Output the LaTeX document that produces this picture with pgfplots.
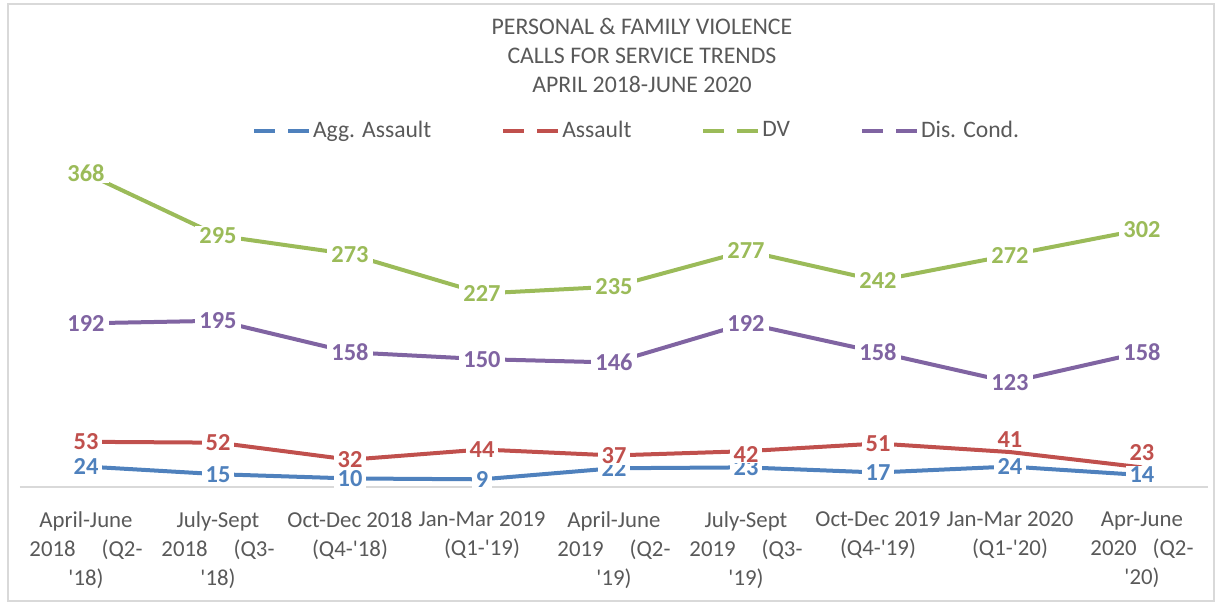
\documentclass[border=0pt]{standalone}
\usepackage{pgfplots}
\pgfplotsset{compat=1.18}
\usepackage{fontspec}
\setmainfont{Carlito}[Ligatures=TeXOff]
\definecolor{cBlue}{HTML}{4F81BD}
\definecolor{cRed}{HTML}{C0504D}
\definecolor{cGreen}{HTML}{9BBB59}
\definecolor{cPurple}{HTML}{8064A2}
\definecolor{cText}{HTML}{595959}
\definecolor{cGrid}{HTML}{D9D9D9}
\pgfplotstableread{
x agg assault dv dis rdy
0 24 53 368 192 0
1 15 52 295 195 0
2 10 32 273 158 0
3 9 44 227 150 0
4 22 37 235 146 0
5 23 42 277 192 -1.5
6 17 51 242 158 0
7 24 41 272 123 6
8 14 23 302 158 7.5
}\datatable
\begin{document}
\begin{tikzpicture}
\begin{scope}[x=0.5pt,y=-0.5pt,shift={(-10pt,243.5pt)}]
\path[use as bounding box] (0,0) rectangle (1220,603);
\draw[cGrid, line width=1pt] (8,4) rectangle (1214,601);
\node[align=center, text=cText, font=\fontsize{11.9}{14.5}\selectfont] at (642,55) {PERSONAL \& FAMILY VIOLENCE\\CALLS FOR SERVICE TRENDS\\APRIL 2018-JUNE 2020};
\end{scope}
\begin{axis}[
  at={(0,0)}, anchor=south west,
  scale only axis, width=594pt, height=170.5pt,
  xmin=-0.5, xmax=8.5, ymin=0, ymax=400,
  axis x line*=bottom, axis y line=none,
  x axis line style={draw=cGrid, line width=0.75pt},
  xtick={0,...,8}, major tick length=0pt, ytick=\empty,
  /pgf/number format/assume math mode=true,
  xticklabels={
    {April-June\\2018\hspace{13pt}(Q2-\\'18)},
    {July-Sept\\2018\hspace{13pt}(Q3-\\'18)},
    {Oct-Dec 2018\\(Q4-'18)},
    {Jan-Mar 2019\\(Q1-'19)},
    {April-June\\2019\hspace{13pt}(Q2-\\'19)},
    {July-Sept\\2019\hspace{13pt}(Q3-\\'19)},
    {Oct-Dec 2019\\(Q4-'19)},
    {Jan-Mar 2020\\(Q1-'20)},
    {Apr-June\\2020\hspace{8pt}(Q2-\\'20)}},
  xticklabel style={align=center, text=cText, font=\fontsize{11.4}{14.5}\selectfont, anchor=north, yshift=-9pt},
  clip=false,
  every axis plot/.append style={line width=2pt},
  nodes near coords style={anchor=center, fill=white, inner xsep=2pt, inner ysep=0.5pt, font=\fontsize{12.2}{14}\selectfont\bfseries},
  legend columns=4,
  legend image code/.code={\draw[#1, dash pattern=on 10.5pt off 6.5pt] (0pt,0pt) -- (27.5pt,0pt);},
  legend style={at={(axis description cs:0.519,1.045)}, anchor=center, draw=none, fill=none,
    font=\fontsize{11.8}{14}\selectfont, text=cText,
    nodes={inner sep=1pt},
    /tikz/every even column/.append style={column sep=34pt}},
]
\addplot[color=cBlue] table[x=x,y=agg] {\datatable};
\addlegendentry{Agg. Assault}
\addplot[color=cRed] table[x=x,y=assault] {\datatable};
\addlegendentry{Assault}
\addplot[color=cGreen] table[x=x,y=dv] {\datatable};
\addlegendentry{DV}
\addplot[color=cPurple] table[x=x,y=dis] {\datatable};
\addlegendentry{Dis. Cond.}
% data labels on top of all lines
\addplot[color=cBlue, draw=none, forget plot, nodes near coords] table[x=x,y=agg] {\datatable};
\addplot[color=cRed, draw=none, forget plot, nodes near coords,
  visualization depends on={\thisrow{rdy} \as \rdy},
  every node near coord/.append style={yshift=\rdy pt}] table[x=x,y=assault] {\datatable};
\addplot[color=cGreen, draw=none, forget plot, nodes near coords] table[x=x,y=dv] {\datatable};
\addplot[color=cPurple, draw=none, forget plot, nodes near coords] table[x=x,y=dis] {\datatable};
\end{axis}
\end{tikzpicture}
\end{document}
